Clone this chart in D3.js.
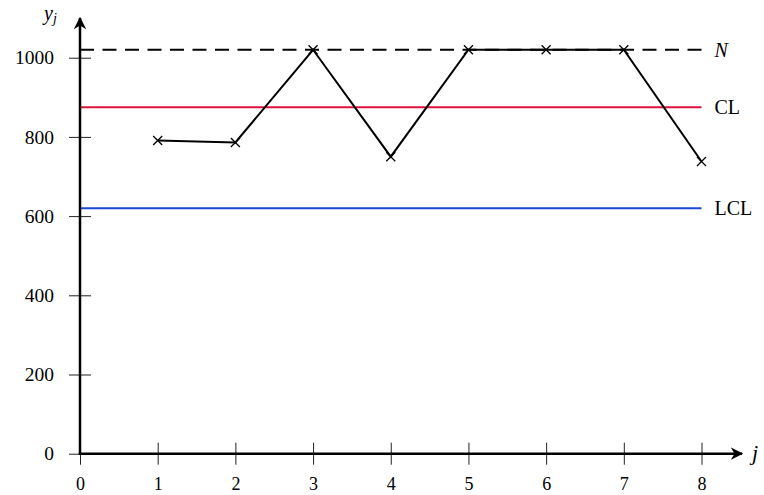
<!DOCTYPE html>
<html>
<head>
<meta charset="utf-8">
<script src="https://cdn.jsdelivr.net/npm/d3@7"></script>
<style>
  body { margin: 0; background: #fff; }
  svg { display: block; }
  text { font-family: "Liberation Serif", "DejaVu Serif", serif; fill: #000; }
</style>
</head>
<body>
<svg id="chart" width="764" height="495"></svg>
<script>
// sample index and observed values
var samples = [1, 2, 3, 4, 5, 6, 7, 8];
var values = [791, 786, 1020, 750, 1020, 1020, 1020, 738];

// reference lines
var refLines = [
  { name: "N", value: 1020 },
  { name: "CL", value: 875 },
  { name: "LCL", value: 620 }
];

var xTicks = [0, 1, 2, 3, 4, 5, 6, 7, 8];
var yTicks = [0, 200, 400, 600, 800, 1000];

var svg = d3.select("#chart");

var x = d3.scaleLinear().domain([0, 8]).range([80, 701.5]);
var y = d3.scaleLinear().domain([0, 1000]).range([453.7, 57.7]);

var lineStyle = {
  N: { color: "#000", dash: "14,8.5", italic: true },
  CL: { color: "#dc143c", dash: null, italic: false },
  LCL: { color: "#1a47d8", dash: null, italic: false }
};

// arrow heads
var defs = svg.append("defs");
defs.append("marker")
  .attr("id", "arrow")
  .attr("viewBox", "0 0 10 10")
  .attr("refX", 9)
  .attr("refY", 5)
  .attr("markerWidth", 5)
  .attr("markerHeight", 5)
  .attr("markerUnits", "strokeWidth")
  .attr("orient", "auto")
  .append("path")
  .attr("d", "M0,0 L10,5 L0,10 L3,5 Z")
  .attr("fill", "#000");

// reference lines
svg.selectAll("line.ref")
  .data(refLines)
  .enter()
  .append("line")
  .attr("class", "ref")
  .attr("x1", x(0))
  .attr("x2", x(8))
  .attr("y1", function(d) { return y(d.value); })
  .attr("y2", function(d) { return y(d.value); })
  .attr("stroke", function(d) { return lineStyle[d.name].color; })
  .attr("stroke-width", 2)
  .attr("stroke-dasharray", function(d) { return lineStyle[d.name].dash; });

svg.selectAll("text.ref")
  .data(refLines)
  .enter()
  .append("text")
  .attr("class", "ref")
  .attr("x", x(8) + 13)
  .attr("y", function(d) { return y(d.value); })
  .attr("dy", "0.35em")
  .attr("font-size", 20)
  .attr("font-style", function(d) { return lineStyle[d.name].italic ? "italic" : "normal"; })
  .text(function(d) { return d.name; });

// x axis
var xAxis = svg.append("g")
  .attr("transform", "translate(0," + y(0) + ")")
  .call(d3.axisBottom(x).tickValues(xTicks).tickFormat(d3.format("d")).tickSize(11));
xAxis.select(".domain").remove();
xAxis.selectAll(".tick line").attr("y1", -11).attr("stroke", "#222");
xAxis.selectAll(".tick text").attr("y", 36.5).attr("dy", null).attr("font-size", 18)
  .attr("font-family", "Liberation Serif, DejaVu Serif, serif");

// y axis
var yAxis = svg.append("g")
  .attr("transform", "translate(" + x(0) + ",0)")
  .call(d3.axisLeft(y).tickValues(yTicks).tickFormat(d3.format("d")).tickSize(11));
yAxis.select(".domain").remove();
yAxis.selectAll(".tick line").attr("x1", 11).attr("stroke", "#222");
yAxis.selectAll(".tick text").attr("x", -26).attr("font-size", 19.5)
  .attr("font-family", "Liberation Serif, DejaVu Serif, serif");

// axis lines with arrows
svg.append("line")
  .attr("x1", x(0) - 1.2).attr("x2", 742)
  .attr("y1", y(0)).attr("y2", y(0))
  .attr("stroke", "#000").attr("stroke-width", 2.5)
  .attr("marker-end", "url(#arrow)");
svg.append("line")
  .attr("x1", x(0)).attr("x2", x(0))
  .attr("y1", y(0) + 1.2).attr("y2", 18)
  .attr("stroke", "#000").attr("stroke-width", 2.5)
  .attr("marker-end", "url(#arrow)");

// axis titles
svg.append("text")
  .attr("x", 752).attr("y", y(0) + 6)
  .attr("font-size", 22).attr("font-style", "italic")
  .text("j");
var yt = svg.append("text")
  .attr("x", 44).attr("y", 20)
  .attr("font-size", 20).attr("font-style", "italic");
yt.append("tspan").text("y");
yt.append("tspan").attr("font-size", 14).attr("dy", 3).text("j");

// data line
var pts = samples.map(function(s, i) { return [s, values[i]]; });
svg.append("path")
  .datum(pts)
  .attr("fill", "none")
  .attr("stroke", "#000")
  .attr("stroke-width", 2)
  .attr("d", d3.line().x(function(d) { return x(d[0]); }).y(function(d) { return y(d[1]); }));

// cross markers
var s = 4.5;
svg.selectAll("path.mark")
  .data(pts)
  .enter()
  .append("path")
  .attr("class", "mark")
  .attr("fill", "none")
  .attr("stroke", "#000")
  .attr("stroke-width", 1.3)
  .attr("d", function(d) {
    var cx = x(d[0]), cy = y(d[1]);
    return "M" + (cx - s) + "," + (cy - s) + "L" + (cx + s) + "," + (cy + s) +
           "M" + (cx - s) + "," + (cy + s) + "L" + (cx + s) + "," + (cy - s);
  });
</script>
</body>
</html>
